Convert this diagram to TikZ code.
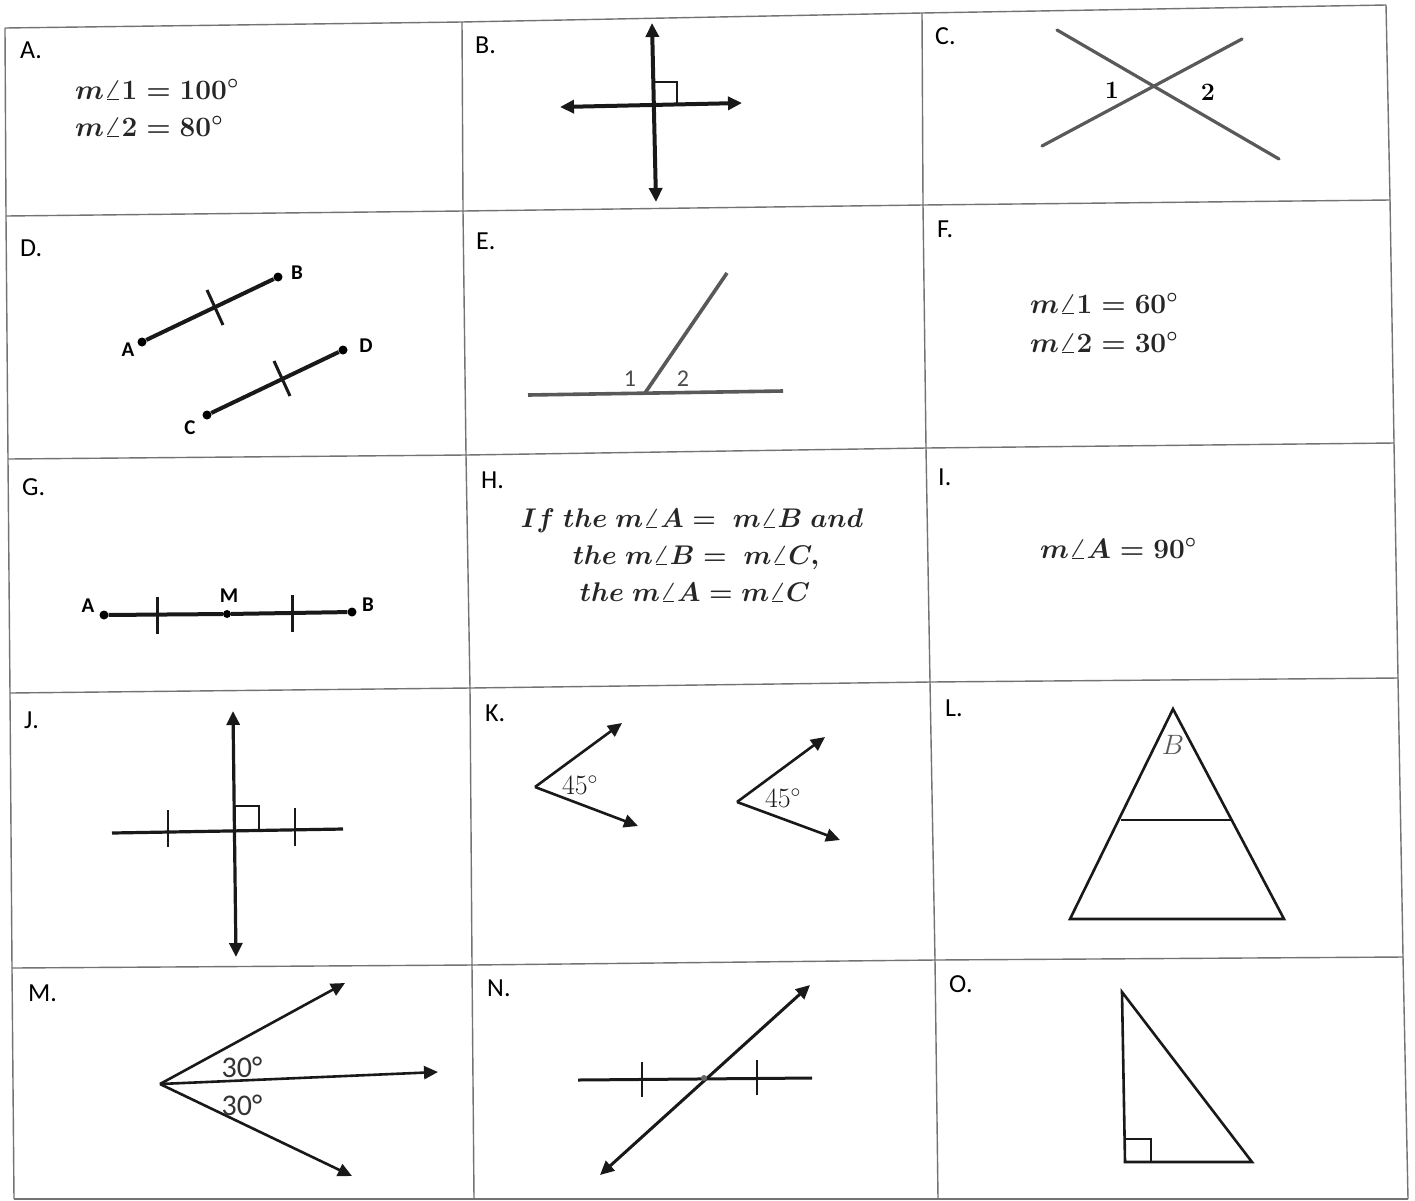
\RequirePackage{fix-cm}
\documentclass[tikz,border=0pt]{standalone}
\usepackage{fontspec}
\newfontfamily\labfont{Carlito}
\usetikzlibrary{arrows.meta}
\begin{document}
\begin{tikzpicture}[x=1pt,y=-1pt,
  gridline/.style={draw=black!55, line width=1.4pt},
  celllabel/.style={font=\labfont\fontsize{26}{30}\selectfont, anchor=west, inner sep=0pt, text=black},
  mathtxt/.style={font=\boldmath\fontsize{28}{34}\selectfont, inner sep=0pt, text=black!85},
  htxt/.style={font=\boldmath\fontsize{27}{32}\selectfont, inner sep=0pt, text=black!85},
  seglab/.style={font=\labfont\bfseries\fontsize{21}{24}\selectfont, inner sep=0pt},
  fig/.style={line width=#1, black!90},
  fig/.default=2.8pt,
  grayfig/.style={line width=3.6pt, black!65},
  dbl/.style={{Triangle[length=14pt,width=13pt]}-{Triangle[length=14pt,width=13pt]}},
  sgl/.style={-{Triangle[length=14pt,width=13pt]}},
  dot/.style={circle, fill=black, inner sep=0pt, minimum size=9pt}]
\useasboundingbox[fill=white] (0,0) rectangle (1415,1200);

% ---------- grid ----------
\coordinate (p00) at (5,28);   \coordinate (p01) at (462,22);  \coordinate (p02) at (922,13);  \coordinate (p03) at (1386,5);
\coordinate (p10) at (6,216);  \coordinate (p11) at (463,211); \coordinate (p12) at (923,205); \coordinate (p13) at (1390,200);
\coordinate (p20) at (8,459);  \coordinate (p21) at (466,455); \coordinate (p22) at (926,448); \coordinate (p23) at (1394,443);
\coordinate (p30) at (10,693); \coordinate (p31) at (470,688); \coordinate (p32) at (930,682); \coordinate (p33) at (1398,678);
\coordinate (p40) at (12,968); \coordinate (p41) at (472,965); \coordinate (p42) at (935,960); \coordinate (p43) at (1403,957);
\coordinate (p50) at (14,1199);\coordinate (p51) at (474,1199);\coordinate (p52) at (938,1199);\coordinate (p53) at (1408,1199);
\foreach \r in {0,...,5}{\draw[gridline] (p\r0) -- (p\r1) -- (p\r2) -- (p\r3);}
\foreach \c in {0,...,3}{\draw[gridline] (p0\c) -- (p1\c) -- (p2\c) -- (p3\c) -- (p4\c) -- (p5\c);}

% ---------- cell labels ----------
\node[celllabel] (lA) at (20,50) {A.};
\node[celllabel] (lB) at (475,45) {B.};
\node[celllabel] (lC) at (935,36) {C.};
\node[celllabel] (lD) at (20,248) {D.};
\node[celllabel] (lE) at (476,241) {E.};
\node[celllabel] (lF) at (937,229) {F.};
\node[celllabel] (lG) at (22,487) {G.};
\node[celllabel] (lH) at (481,480) {H.};
\node[celllabel] (lI) at (938,477) {I.};
\node[celllabel] (lJ) at (24,720) {J.};
\node[celllabel] (lK) at (485,713) {K.};
\node[celllabel] (lL) at (945,708) {L.};
\node[celllabel] (lM) at (28,993) {M.};
\node[celllabel] (lN) at (487,988) {N.};
\node[celllabel] (lO) at (949,984) {O.};

% ---------- A ----------
\node[mathtxt, anchor=base west] (a1) at (75,99) {$m\angle 1 = 100^\circ$};
\node[mathtxt, anchor=base west] (a2) at (75,136) {$m\angle 2 = 80^\circ$};

% ---------- B ----------
\coordinate (Bt) at (652,23); \coordinate (Bb) at (656,202);
\coordinate (Bl) at (560,107); \coordinate (Br) at (742,103);
\draw[fig=4pt, dbl] (Bt) -- (Bb);
\draw[fig=4pt, dbl] (Bl) -- (Br);
\draw[fig=2.4pt] (654,82) -- (677,82) -- (677,104);

% ---------- C ----------
\coordinate (C1a) at (1057,30); \coordinate (C1b) at (1279,159);
\coordinate (C2a) at (1042,146); \coordinate (C2b) at (1242,39);
\draw[line width=3.2pt, black!65, line cap=round] (C1a) -- (C1b);
\draw[line width=3.2pt, black!65, line cap=round] (C2a) -- (C2b);
\node[font=\bfseries\fontsize{25}{27}\selectfont, inner sep=0pt] (c1) at (1112,90) {1};
\node[font=\bfseries\fontsize{25}{27}\selectfont, inner sep=0pt] (c2) at (1208,92) {2};

% ---------- D ----------
\node[dot] (DA) at (142,342) {}; \node[dot] (DB) at (278,277) {};
\node[dot] (DC) at (207,415) {}; \node[dot] (DD) at (343,350) {};
\draw[fig=4pt] (DA) -- (DB);
\draw[fig=4pt] (DC) -- (DD);
\draw[fig=3pt] (207,290) -- (223,325);
\draw[fig=3pt] (274,361) -- (290,396);
\node[seglab] (dA) at (128,350) {A};
\node[seglab] (dB) at (297,273) {B};
\node[seglab] (dC) at (190,428) {C};
\node[seglab] (dD) at (366,346) {D};

% ---------- E ----------
\coordinate (El) at (528,395); \coordinate (Er) at (783,391);
\coordinate (Ev) at (645,393); \coordinate (Et) at (727,273);
\draw[grayfig] (El) -- (Er);
\draw[grayfig] (Ev) -- (Et);
\node[font=\labfont\fontsize{24}{26}\selectfont, text=black!70, inner sep=0pt] (e1) at (630,379) {1};
\node[font=\labfont\fontsize{24}{26}\selectfont, text=black!70, inner sep=0pt] (e2) at (683,379) {2};

% ---------- F ----------
\node[mathtxt, anchor=base west] (f1) at (1030,313) {$m\angle 1 = 60^\circ$};
\node[mathtxt, anchor=base west] (f2) at (1030,352) {$m\angle 2 = 30^\circ$};

% ---------- G ----------
\node[dot] (GA) at (104,615) {}; \node[dot] (GB) at (352,612) {};
\node[dot, minimum size=8pt] (GM) at (227,614) {};
\draw[fig=4pt] (GA) -- (GM) -- (GB);
\draw[fig=3pt] (157,597) -- (157,634);
\draw[fig=3pt] (292,595) -- (292,632);
\node[seglab] (gA) at (88,606) {A};
\node[seglab] (gM) at (229,596) {M};
\node[seglab] (gB) at (368,605) {B};

% ---------- H ----------
\node[htxt, anchor=base] (h1) at (692,527) {$If\ the\ m\angle A =\ m\angle B\ and$};
\node[htxt, anchor=base] (h2) at (696,564) {$the\ m\angle B =\ m\angle C,$};
\node[htxt, anchor=base] (h3) at (695,601) {$the\ m\angle A = m\angle C$};

% ---------- I ----------
\node[mathtxt, anchor=base west] (i1) at (1040,558) {$m\angle A = 90^\circ$};

% ---------- J ----------
\coordinate (Jt) at (233,711); \coordinate (Jb) at (236,957);
\coordinate (Jl) at (112,833); \coordinate (Jr) at (343,829);
\draw[fig=3.2pt, dbl] (Jt) -- (Jb);
\draw[fig=3.2pt] (Jl) -- (Jr);
\draw[fig=2.6pt] (168,810) -- (168,847);
\draw[fig=2.6pt] (295,808) -- (295,846);
\draw[fig=2.4pt] (235,806) -- (259,806) -- (259,831);

% ---------- K ----------
\coordinate (K1v) at (535,787); \coordinate (K1u) at (622,723); \coordinate (K1d) at (638,826);
\draw[fig=2.6pt, sgl] (K1v) -- (K1u);
\draw[fig=2.6pt, sgl] (K1v) -- (K1d);
\node[font=\fontsize{28}{30}\selectfont, text=black!90, inner sep=0pt] (k1) at (580,785) {45$^\circ$};
\coordinate (K2v) at (737,802); \coordinate (K2u) at (825,737); \coordinate (K2d) at (840,840);
\draw[fig=2.6pt, sgl] (K2v) -- (K2u);
\draw[fig=2.6pt, sgl] (K2v) -- (K2d);
\node[font=\fontsize{28}{30}\selectfont, text=black!90, inner sep=0pt] (k2) at (783,798) {45$^\circ$};

% ---------- L ----------
\coordinate (La) at (1173,709); \coordinate (Ll) at (1070,919); \coordinate (Lr) at (1284,919);
\draw[fig=2.6pt, line join=miter] (La) -- (Ll) -- (Lr) -- cycle;
\draw[fig=1.8pt] (1121,820) -- (1231,820);
\node[font=\fontsize{28}{30}\selectfont, text=black!65, inner sep=0pt] (lb) at (1173,745) {$B$};

% ---------- M ----------
\coordinate (Mv) at (160,1084); \coordinate (Mu) at (345,983);
\coordinate (Mm) at (438,1072); \coordinate (Md) at (352,1176);
\draw[fig=2.6pt, sgl] (Mv) -- (Mu);
\draw[fig=2.6pt, sgl] (Mv) -- (Mm);
\draw[fig=2.6pt, sgl] (Mv) -- (Md);
\node[font=\labfont\fontsize{30}{32}\selectfont, text=black!80, inner sep=0pt] (m1) at (242,1067) {30°};
\node[font=\labfont\fontsize{30}{32}\selectfont, text=black!80, inner sep=0pt] (m2) at (242,1105) {30°};

% ---------- N ----------
\coordinate (Nl) at (578,1080); \coordinate (Nr) at (812,1078);
\coordinate (Nd) at (600,1175); \coordinate (Nu) at (810,985);
\draw[fig=3pt] (Nl) -- (Nr);
\draw[fig=3pt, dbl] (Nd) -- (Nu);
\draw[fig=2.6pt] (642,1062) -- (642,1097);
\draw[fig=2.6pt] (757,1060) -- (757,1095);
\node[circle, fill=black!60, inner sep=0pt, minimum size=6pt] (Nx) at (704,1078) {};

% ---------- O ----------
\coordinate (Ot) at (1122,992); \coordinate (Ob) at (1125,1162); \coordinate (Or) at (1252,1162);
\draw[fig=2.6pt, line join=miter] (Ot) -- (Ob) -- (Or) -- cycle;
\draw[fig=2.6pt] (1125,1139) -- (1151,1139) -- (1151,1162);
\end{tikzpicture}
\end{document}
